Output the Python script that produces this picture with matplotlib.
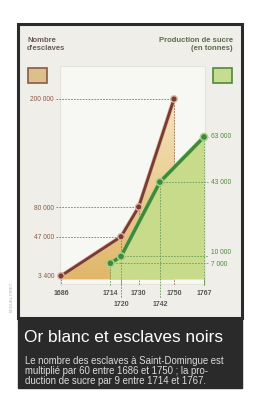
import matplotlib.pyplot as plt
import matplotlib.patches as mpatches
import matplotlib.patheffects as pe
from matplotlib.colors import LinearSegmentedColormap
import numpy as np

# Data
slave_years = [1686, 1720, 1730, 1750]
slaves = [3400, 47000, 80000, 200000]
slave_labels = ['3 400', '47 000', '80 000', '200 000']

sugar_years = [1714, 1720, 1742, 1767]
sugar = [7000, 10000, 43000, 63000]
sugar_labels = ['7 000', '10 000', '43 000', '63 000']

year_top = [1686, 1714, 1730, 1750, 1767]
year_bottom = [1720, 1742]

plt.rcParams['font.family'] = ['Liberation Sans', 'DejaVu Sans']

W, H = 254, 396
fig = plt.figure(figsize=(W / 100, H / 100), dpi=100)
fig.patch.set_facecolor('white')

# background drawing in pixel coordinates
bg = fig.add_axes([0, 0, 1, 1])
bg.set_xlim(0, W)
bg.set_ylim(H, 0)
bg.axis('off')

bg.add_patch(mpatches.Rectangle((18, 24), 224, 294, facecolor='#efeee8',
                                edgecolor='#2b2b2b', lw=2.2))
bg.add_patch(mpatches.Rectangle((60, 66), 145, 218, facecolor='#f7f7f3',
                                edgecolor='#e4e3dc', lw=0.8))
bg.add_patch(mpatches.Rectangle((18, 318), 224, 70, facecolor='#2a2a2a',
                                edgecolor='#2a2a2a', lw=1))

bg.text(27, 37, "Nombre\nd'esclaves", fontsize=5.5, fontweight='bold',
        color='#6b5d55', va='top', ha='left', linespacing=1.1)
bg.text(233, 37, "Production de sucre\n(en tonnes)", fontsize=5.5,
        fontweight='bold', color='#5d6b50', va='top', ha='right',
        multialignment='right', linespacing=1.1)

bg.add_patch(mpatches.Rectangle((28, 68), 19, 15, facecolor='#dcc08a',
                                edgecolor='#8a5a48', lw=1.2))
bg.add_patch(mpatches.Rectangle((213, 68), 19, 15, facecolor='#c6dc8e',
                                edgecolor='#4f8a3c', lw=1.2))

bg.text(24, 338, 'Or blanc et esclaves noirs', fontsize=12.4, color='white',
        va='center', ha='left')
bg.text(25, 356, "Le nombre des esclaves à Saint-Domingue est\n"
        "multiplié par 60 entre 1686 et 1750 ; la pro-\n"
        "duction de sucre par 9 entre 1714 et 1767.",
        fontsize=6.9, color='#dcdcdc', va='top', ha='left', linespacing=1.0)

bg.text(12, 297, 'MIGUEL PIRET', fontsize=3, color='#aaaaaa', rotation=90,
        va='center', ha='center')

# main chart
left, right, top, bottom = 61, 204, 67, 282
ax = fig.add_axes([left / W, 1 - bottom / H, (right - left) / W, (bottom - top) / H])
ax.patch.set_alpha(0)
for s in ax.spines.values():
    s.set_visible(False)

ax2 = ax.twinx()
for s in ax2.spines.values():
    s.set_visible(False)

brown = '#7a3a30'
green = '#3e8a36'

# fills
poly = ax.fill_between(slave_years, 0, slaves, color='#e6c47c', lw=0, zorder=1)
grad = np.linspace(0, 1, 100).reshape(-1, 1)
cmap = LinearSegmentedColormap.from_list('tan', ['#f4e4bc', '#e0b76a'])
im = ax.imshow(grad, extent=(1686, 1750, 0, 200000), aspect='auto',
               cmap=cmap, origin='upper', zorder=1)
im.set_clip_path(poly.get_paths()[0], transform=ax.transData)

ax2.fill_between(sugar_years, 0, sugar, color='#c8db8a', lw=0, zorder=1)

ax.set_xlim(1686, 1767)
ax.set_ylim(-3333, 235555)
ax2.set_ylim(-1331, 94055)

# dashed guides for slaves
dash = (0, (2, 1.5))
for yr, v in zip(slave_years[1:], slaves[1:]):
    ax.plot([1683, yr], [v, v], color='#9a6a5a', lw=0.6, ls=dash,
            clip_on=False, zorder=2)
for yr, v in zip(slave_years, slaves):
    ext = -21111 if yr == 1720 else -7000
    ax.plot([yr, yr], [v, ext], color='#9a6a5a', lw=0.6, ls=dash,
            clip_on=False, zorder=2)

# dashed guides for sugar
for yr, v in zip(sugar_years, sugar):
    ax2.plot([yr, 1769], [v, v], color='#6a9a5a', lw=0.6, ls=dash,
             clip_on=False, zorder=2)
    ext = -8400 if yr == 1742 else -2800
    ax2.plot([yr, yr], [v, ext], color='#6a9a5a', lw=0.6, ls=dash,
             clip_on=False, zorder=2)
ax.plot([1767, 1767], [0, -7000], color='#6a9a5a', lw=0.6, clip_on=False)

# lines
ax.plot(slave_years, slaves, color=brown, lw=2.0, marker='o', ms=2.6,
        clip_on=False, zorder=5, solid_capstyle='round',
        path_effects=[pe.Stroke(linewidth=3.0, foreground='#d9b4a0'), pe.Normal()])
ax2.plot(sugar_years, sugar, color=green, lw=2.4, marker='o', ms=3,
         clip_on=False, zorder=5, solid_capstyle='round',
         path_effects=[pe.Stroke(linewidth=3.2, foreground='#a8d090'), pe.Normal()])

# axis labels
ax.set_yticks(slaves)
ax.set_yticklabels(slave_labels, fontsize=4.8, color='#8a5a4a')
ax.tick_params(axis='y', length=0, pad=5)
ax2.set_yticks([])

offsets = {7000: -1, 10000: 3, 43000: 0, 63000: 0}
for v, lab in zip(sugar, sugar_labels):
    ax2.annotate(lab, xy=(1767, v), xytext=(5, offsets[v]),
                 textcoords='offset points', fontsize=4.8, color='#4f8a3c',
                 va='center', ha='left', annotation_clip=False)

ax.set_xticks(year_top)
ax.set_xticklabels([str(y) for y in year_top], fontsize=5, color='#555555',
                   fontweight='bold')
ax.tick_params(axis='x', length=0, pad=5.5)
for yr in year_bottom:
    ax.annotate(str(yr), xy=(yr, 0), xycoords=('data', 'axes fraction'),
                xytext=(0, -16), textcoords='offset points', fontsize=5,
                color='#555555', fontweight='bold', ha='center', va='center',
                annotation_clip=False)

fig.savefig('out.png', dpi=100)
